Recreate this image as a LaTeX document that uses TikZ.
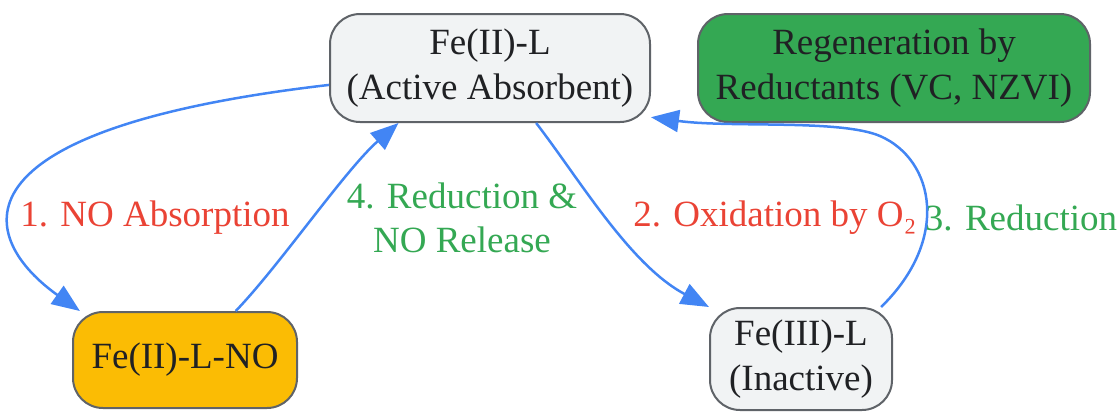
\documentclass[tikz,border=0pt]{standalone}
\usepackage{fontspec}
\setmainfont{Liberation Serif}
\usetikzlibrary{arrows.meta}
\definecolor{stategray}{HTML}{F1F3F4}
\definecolor{boxline}{HTML}{5F6368}
\definecolor{txt}{HTML}{202124}
\definecolor{nogold}{HTML}{FBBC04}
\definecolor{reggreen}{HTML}{34A853}
\definecolor{flowblue}{HTML}{4285F4}
\definecolor{labred}{HTML}{EA4335}
\definecolor{labgreen}{HTML}{34A853}

\begin{document}
\begin{tikzpicture}[x=1pt,y=1pt,>={Triangle[length=28pt,width=22pt]},
font=\fontsize{37}{44.5}\selectfont,
cyc/.style ={rectangle, draw=boxline, line width=2pt, fill=stategray, text=txt, align=center, rounded corners=30pt, minimum height=108pt},
nos/.style ={rectangle, draw=boxline, line width=2pt, fill=nogold, text=txt, align=center, rounded corners=30pt, minimum height=96pt},
reg/.style ={rectangle, draw=boxline, line width=2pt, fill=reggreen, text=txt, align=center, rounded corners=30pt, minimum height=108pt},
lblred/.style={text=labred, align=center},
lblgreen/.style={text=labgreen, align=center},
flow/.style={draw=flowblue, line width=2.5pt, ->}]

\useasboundingbox (0,0) rectangle (1118,-413);

\draw (490,-68) node[cyc, minimum width=320pt] (FeL) {Fe(II)-L\\(Active Absorbent)};
\draw (894,-68) node[reg, minimum width=392pt] (Regen) {Regeneration by\\Reductants (VC, NZVI)};
\draw (185,-360) node[nos, minimum width=224pt] (FeNO) {Fe(II)-L-NO};
\draw (801,-359) node[cyc, minimum width=182pt, minimum height=102pt] (FeIII) {Fe(III)-L\\(Inactive)};

\draw (155,-218) node[lblred] (Abs) {1. NO Absorption};
\draw (775,-218) node[lblred] (Oxi) {2. Oxidation by O₂};
\draw (1021,-218) node[lblgreen] (Red) {3. Reduction};
\draw (462,-218) node[lblgreen] (Rel) {4. Reduction \&\\NO Release};


\draw[flow] (FeL.186) .. controls (-60,-130) and (-20,-240) .. (FeNO.155);
\draw[flow] (FeNO.44) .. controls (280,-265) and (345,-170) .. (FeL.211);
\draw[flow] (FeL.310) .. controls (580,-180) and (630,-265) .. (FeIII.north west);
\draw[flow] (FeIII.33) .. controls (950,-240) and (935,-160) .. (880,-136)
  .. controls (840,-119) and (730,-128) .. (FeL.343);

\end{tikzpicture}
\end{document}
